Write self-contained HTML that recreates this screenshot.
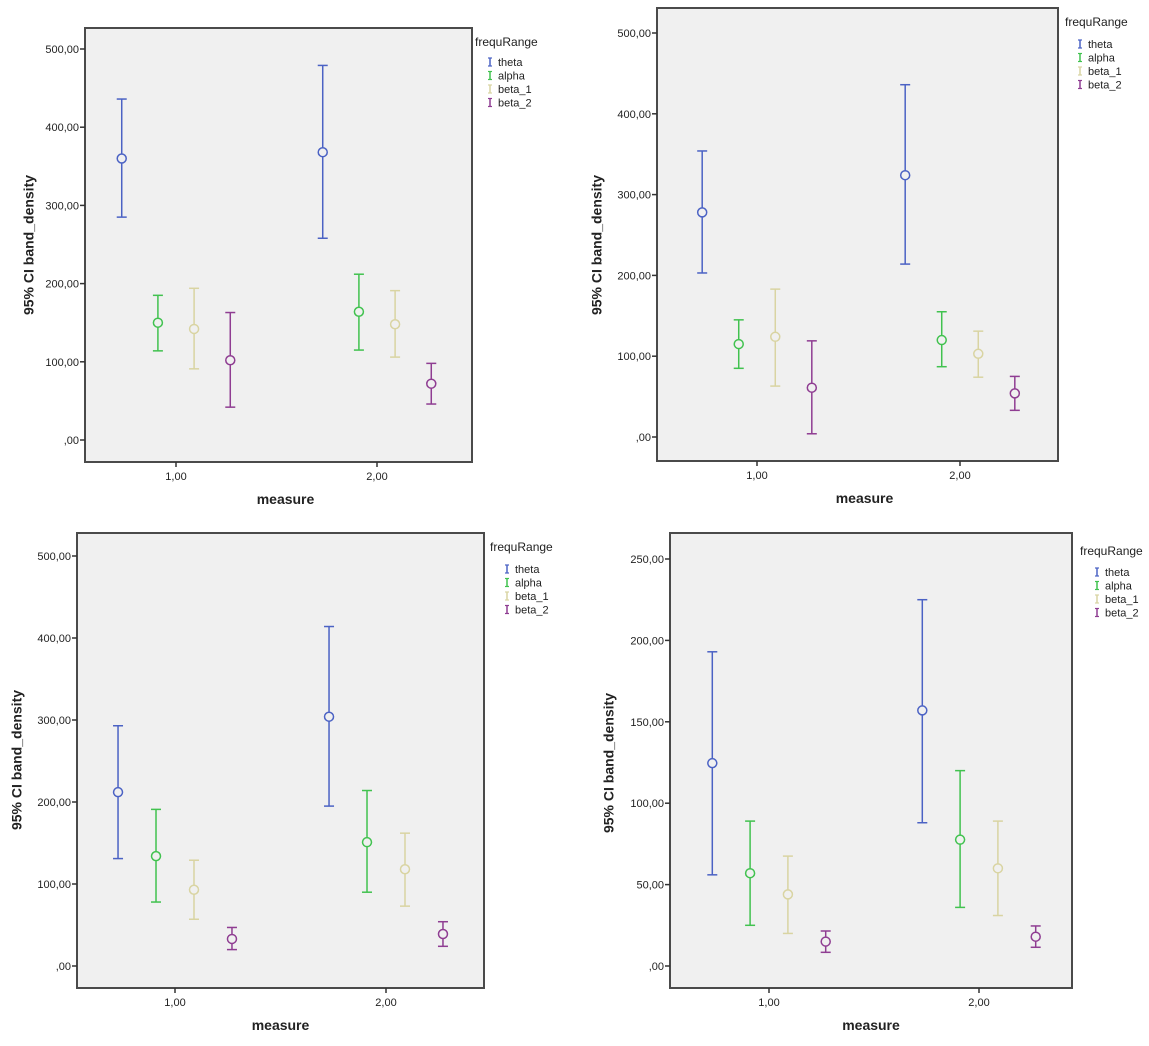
<!DOCTYPE html>
<html><head><meta charset="utf-8"><style>
html,body{margin:0;padding:0;background:#fff;}
svg{display:block;font-family:"Liberation Sans",sans-serif;}
</style></head><body>
<svg id="chart" width="1149" height="1046" viewBox="0 0 1149 1046" xmlns="http://www.w3.org/2000/svg"></svg>
<script>
const seriesNames = ["theta","alpha","beta_1","beta_2"];
const seriesColors = ["#4b62c4","#41c24f","#d9d4a2","#8f3d92"];
const measures = ["1,00","2,00"];
// panel 1
const p1Mean = [[360,150,142,102],[368,164,148,72]];
const p1Low  = [[285,114,91,42],[258,115,106,46]];
const p1High = [[436,185,194,163],[479,212,191,98]];
// panel 2
const p2Mean = [[278,115,124,61],[324,120,103,54]];
const p2Low  = [[203,85,63,4],[214,87,74,33]];
const p2High = [[354,145,183,119],[436,155,131,75]];
// panel 3
const p3Mean = [[212,134,93,33],[304,151,118,39]];
const p3Low  = [[131,78,57,20],[195,90,73,24]];
const p3High = [[293,191,129,47],[414,214,162,54]];
// panel 4
const p4Mean = [[124.6,57,44,15],[157,77.6,60,18]];
const p4Low  = [[56,25,20,8.4],[88,36,31,11.5]];
const p4High = [[193,89,67.5,21.5],[225,120,89,24.6]];
const ticks500 = [0,100,200,300,400,500];
const ticks250 = [0,50,100,150,200,250];
const tickLabels500 = [",00","100,00","200,00","300,00","400,00","500,00"];
const tickLabels250 = [",00","50,00","100,00","150,00","200,00","250,00"];

const panels = [
 {id:"p1",L:85,R:472,T:28,B:462,y0:440,yTop:49,vTop:500,ticks:ticks500,labels:tickLabels500,x1:176,x2:377,mean:p1Mean,low:p1Low,high:p1High,yt:[30,245],lg:[475,46,490,498,62]},
 {id:"p2",L:657,R:1058,T:8,B:461,y0:437,yTop:33,vTop:500,ticks:ticks500,labels:tickLabels500,x1:757,x2:960,mean:p2Mean,low:p2Low,high:p2High,yt:[598,245],lg:[1065,26,1080,1088,44]},
 {id:"p3",L:77,R:484,T:533,B:988,y0:966,yTop:556,vTop:500,ticks:ticks500,labels:tickLabels500,x1:175,x2:386,mean:p3Mean,low:p3Low,high:p3High,yt:[18,760],lg:[490,551,507,515,569]},
 {id:"p4",L:670,R:1072,T:533,B:988,y0:966,yTop:559,vTop:250,ticks:ticks250,labels:tickLabels250,x1:769,x2:979,mean:p4Mean,low:p4Low,high:p4High,yt:[610,763],lg:[1080,555,1097,1105,572]}
];
const offsets = [-0.27,-0.09,0.09,0.27];
const NS="http://www.w3.org/2000/svg";
const svg=document.getElementById('chart');
function mk(tag,attrs,parent){const e=document.createElementNS(NS,tag);for(const k in attrs)e.setAttribute(k,attrs[k]);(parent||svg).appendChild(e);return e;}

panels.forEach(p=>{
  const g=mk('g',{});
  
  
  const yS=v=>p.y0-(v/p.vTop)*(p.y0-p.yTop);
  const xS=(m,s)=>{const c=m===0?p.x1:p.x2;return c+offsets[s]*(p.x2-p.x1);};
  const bg=mk('rect',{x:p.L,y:p.T,width:p.R-p.L,height:p.B-p.T,fill:"#f0f0f0",stroke:"#4a4a4a","stroke-width":2},g);
  
  
  p.ticks.forEach((t,i)=>{
    const y=yS(t);
    const tl=mk('line',{x1:p.L-5,x2:p.L,y1:y,y2:y,stroke:"#333","stroke-width":1.5},g);
    
    
    const tx=mk('text',{x:p.L-6,y:y+4,"text-anchor":"end","font-size":11,fill:"#222"},g);
    tx.textContent=p.labels[i];
    
    
  });
  [p.x1,p.x2].forEach((x,i)=>{
    const tl=mk('line',{x1:x,x2:x,y1:p.B,y2:p.B+5,stroke:"#333","stroke-width":1.5},g);
    
    
    const tx=mk('text',{x:x,y:p.B+18,"text-anchor":"middle","font-size":11,fill:"#222"},g);
    tx.textContent=measures[i];
    
    
  });
  const xt=mk('text',{x:(p.L+p.R)/2+(p.id==="p1"||p.id==="p2"?7:0),y:p.B+42,"text-anchor":"middle","font-size":14,"font-weight":"bold",fill:"#222"},g);
  xt.textContent="measure";
  
  
  const yt=mk('text',{x:p.yt[0],y:p.yt[1],"text-anchor":"middle","font-size":14,"font-weight":"bold",fill:"#222",transform:`rotate(-90 ${p.yt[0]} ${p.yt[1]})`,"dominant-baseline":"middle"},g);
  yt.textContent="95% CI band_density";
  
  
  for(let m=0;m<2;m++)for(let s=0;s<4;s++){
    const x=xS(m,s),c=seriesColors[s];
    const eg=mk('g',{stroke:c,"stroke-width":1.5,fill:"none"},g);
    
    
    const yh=yS(p.high[m][s]),yl=yS(p.low[m][s]),ym=yS(p.mean[m][s]);
    mk('line',{x1:x,x2:x,y1:yh,y2:yl},eg);
    mk('line',{x1:x-5,x2:x+5,y1:yh,y2:yh},eg);
    mk('line',{x1:x-5,x2:x+5,y1:yl,y2:yl},eg);
    const ci=mk('circle',{cx:x,cy:ym,r:4.5,fill:"#f0f0f0"},eg);
    
    
  }
  const lt=mk('text',{x:p.lg[0],y:p.lg[1],"font-size":12,fill:"#222"},g);
  lt.textContent="frequRange";
  
  
  seriesNames.forEach((n,s)=>{
    const y=p.lg[4]+s*13.5;
    const le=mk('g',{},g);
    
    
    const c=seriesColors[s];
    mk('line',{x1:p.lg[2],x2:p.lg[2],y1:y-4,y2:y+4,stroke:c,"stroke-width":1.5},le);
    mk('line',{x1:p.lg[2]-2,x2:p.lg[2]+2,y1:y-4,y2:y-4,stroke:c,"stroke-width":1.2},le);
    mk('line',{x1:p.lg[2]-2,x2:p.lg[2]+2,y1:y+4,y2:y+4,stroke:c,"stroke-width":1.2},le);
    const t=mk('text',{x:p.lg[3],y:y+4,"font-size":11,fill:"#222"},le);
    t.textContent=n;
  });
});
</script>
</body></html>
